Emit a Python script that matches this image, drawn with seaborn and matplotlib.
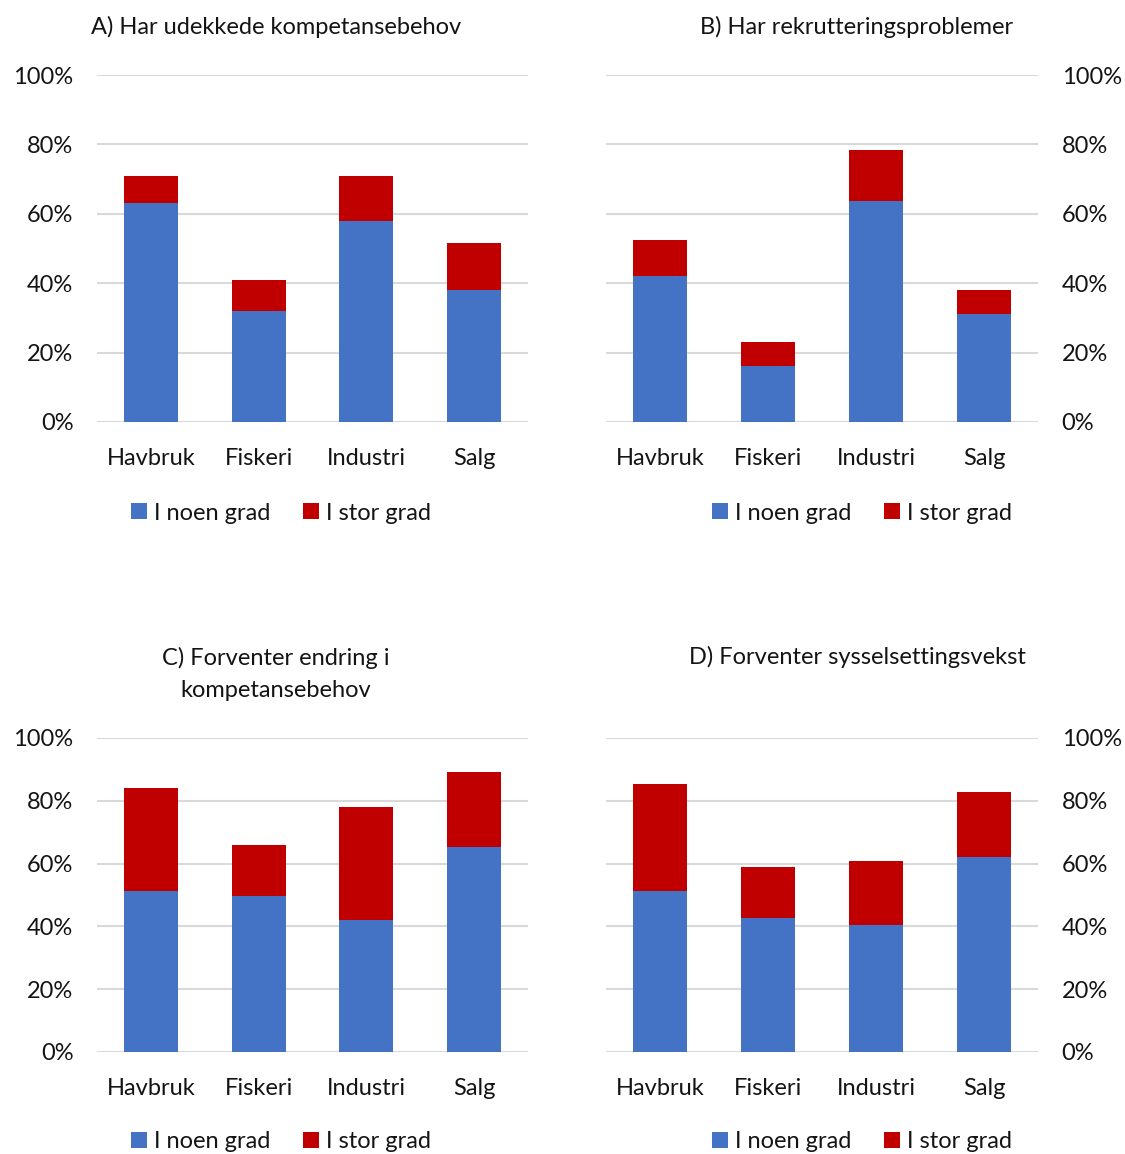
import matplotlib
matplotlib.use("Agg")
import matplotlib.pyplot as plt
import seaborn as sns
import pandas as pd
from matplotlib.patches import Patch
from matplotlib.ticker import PercentFormatter

sns.set_theme(style="white")
plt.rcParams['font.family'] = ['Lato', 'DejaVu Sans']

categories = ["Havbruk", "Fiskeri", "Industri", "Salg"]
series_names = ["I noen grad", "I stor grad"]

titles = ["A) Har udekkede kompetansebehov",
          "B) Har rekrutteringsproblemer",
          "C) Forventer endring i\nkompetansebehov",
          "D) Forventer sysselsettingsvekst"]

# values in percent
a_noen = [63, 32, 58, 38]
a_stor = [8, 9, 13, 13.5]
b_noen = [42, 16, 63.7, 31]
b_stor = [10.5, 7, 14.6, 7]
c_noen = [51.2, 49.8, 41.9, 65.3]
c_stor = [32.8, 16.1, 36, 24]
d_noen = [51.2, 42.8, 40.6, 62]
d_stor = [34.1, 16.1, 20.1, 20.7]

yticks = [0, 20, 40, 60, 80, 100]

BLUE = "#4472C4"
RED = "#C00000"
GRID = "#D9D9D9"
TXT = "#141414"

W, H = 1125, 1154
fig = plt.figure(figsize=(W / 100, H / 100), dpi=100)

def frac(x0, x1, ytop, ybot):
    return [x0 / W, 1 - ybot / H, (x1 - x0) / W, (ybot - ytop) / H]

panels = [
    (a_noen, a_stor, frac(97, 528, 75, 422), "left", (276, 27), (281, 513)),
    (b_noen, b_stor, frac(606, 1038, 75, 422), "right", (857, 27), (862, 513)),
    (c_noen, c_stor, frac(97, 528, 738, 1052), "left", (276, 674), (281, 1142)),
    (d_noen, d_stor, frac(606, 1038, 738, 1052), "right", (857, 657), (862, 1142)),
]

FS = 17

for (noen, stor, rect, side, tpos, lpos), title in zip(panels, titles):
    ax = fig.add_axes(rect)
    total = [n + s for n, s in zip(noen, stor)]
    df = pd.DataFrame({"cat": categories, "noen": noen, "total": total})
    ax.set_axisbelow(True)
    for yv in yticks:
        ax.axhline(yv, color=GRID, lw=1.5, zorder=0)
    sns.barplot(data=df, x="cat", y="total", color=RED, width=0.5,
                saturation=1, linewidth=0, ax=ax, zorder=2)
    sns.barplot(data=df, x="cat", y="noen", color=BLUE, width=0.5,
                saturation=1, linewidth=0, ax=ax, zorder=3)
    ax.set_xlim(-0.5, 3.5)
    ax.set_ylim(0, 100)
    ax.set_yticks(yticks)
    ax.yaxis.set_major_formatter(PercentFormatter(decimals=0))
    ax.set_xlabel("")
    ax.set_ylabel("")
    for s in ax.spines.values():
        s.set_visible(False)
    ax.tick_params(axis="x", length=0, pad=19, labelsize=FS, labelcolor=TXT)
    if side == "right":
        ax.yaxis.tick_right()
    ax.tick_params(axis="y", length=0, pad=17, labelsize=FS, labelcolor=TXT)
    ax.grid(False)

    fig.text(tpos[0] / W, 1 - tpos[1] / H, title, ha="center", va="center",
             fontsize=FS, color=TXT, linespacing=1.65)

    handles = [Patch(facecolor=BLUE, edgecolor="none"),
               Patch(facecolor=RED, edgecolor="none")]
    fig.legend(handles, series_names, loc="center",
               bbox_to_anchor=(lpos[0] / W, 1 - lpos[1] / H), ncol=2,
               frameon=False, fontsize=FS, handlelength=0.65, handleheight=0.65,
               handletextpad=0.3, columnspacing=1.4, labelcolor=TXT)

fig.savefig("out.png", dpi=100, facecolor="white")
